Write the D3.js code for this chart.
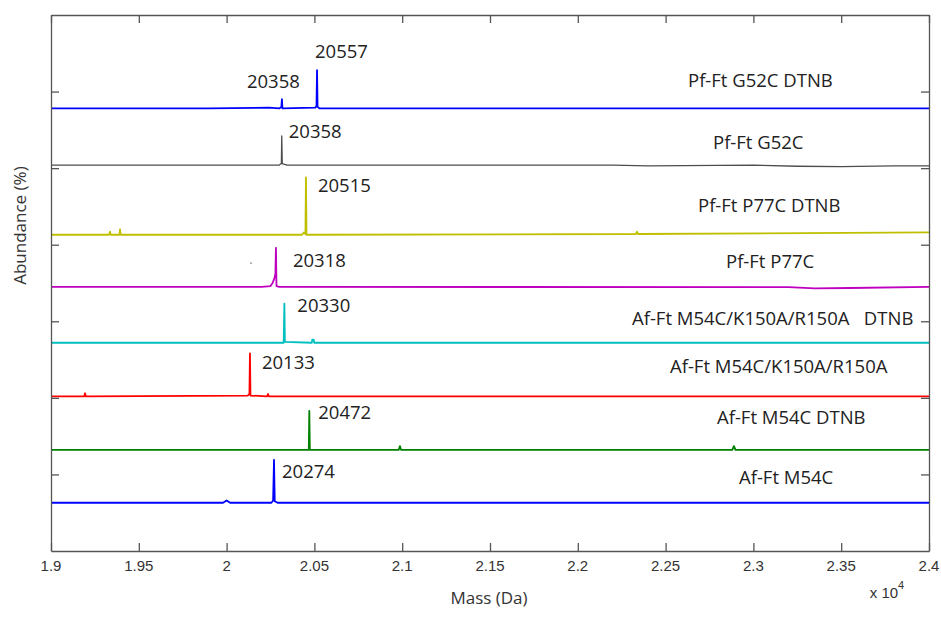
<!DOCTYPE html>
<html lang="en">
<head>
    <meta charset="UTF-8">
    <title>Mass spectra</title>
    <script src="https://d3js.org/d3.v7.min.js"></script>
    <style>
        body {
            margin: 0;
            background: #fff;
        }
        svg {
            display: block;
        }
        .axis path, .axis line {
            stroke: #555;
        }
        .tick-label {
            font-family: "Liberation Sans", Arial, sans-serif;
            font-size: 15px;
            fill: #333;
        }
        .note {
            font-family: "Open Sans", sans-serif;
            font-size: 18.5px;
            fill: #222;
            white-space: pre;
        }
        .title {
            font-family: "Open Sans", sans-serif;
            font-size: 17px;
            fill: #333;
        }
    </style>
</head>
<body>
<svg width="941" height="617"></svg>

<script>
    // x ticks (mass / 10^4)
    const massTicks = [1.9, 1.95, 2, 2.05, 2.1, 2.15, 2.2, 2.25, 2.3, 2.35, 2.4];
    const abundanceTicks = [1, 2, 3, 4, 5, 6];

    const sampleNames = [
        "Pf-Ft G52C DTNB",
        "Pf-Ft G52C",
        "Pf-Ft P77C DTNB",
        "Pf-Ft P77C",
        "Af-Ft M54C/K150A/R150A   DTNB",
        "Af-Ft M54C/K150A/R150A",
        "Af-Ft M54C DTNB",
        "Af-Ft M54C"
    ];
    const colors = ["#0000ff", "#4d4d4d", "#bfbf00", "#bf00bf", "#00bfbf", "#ff0000", "#008000", "#0000ff"];

    // spectra: [mass (Da), stacked abundance]
    const pfG52cDtnb = [[19000, 5.78], [19900, 5.78], [20240, 5.79], [20300, 5.78], [20312, 5.80], [20315, 5.90],
        [20318, 5.78], [20505, 5.79], [20512, 5.81], [20515, 6.28], [20518, 5.80], [20530, 5.78], [24000, 5.78]];
    const pfG52c = [[19000, 5.04], [20300, 5.04], [20312, 5.06], [20314, 5.42], [20317, 5.06], [20330, 5.05],
        [20345, 5.04], [22200, 5.04], [22400, 5.03], [23000, 5.04], [23250, 5.025], [23500, 5.02], [23800, 5.03], [24000, 5.03]];
    const pfP77cDtnb = [[19000, 4.13], [19330, 4.13], [19336, 4.17], [19340, 4.13], [19390, 4.13], [19393, 4.20],
        [19397, 4.13], [20430, 4.13], [20440, 4.16], [20449, 4.14], [20452, 4.88], [20455, 4.13], [22330, 4.14],
        [22337, 4.17], [22342, 4.14], [24000, 4.16]];
    const pfP77c = [[19000, 3.45], [20200, 3.45], [20250, 3.46], [20262, 3.50], [20272, 3.56], [20278, 3.62],
        [20281, 3.96], [20284, 3.46], [20300, 3.45], [23200, 3.445], [23350, 3.43], [23550, 3.435], [24000, 3.45]];
    const afM54cTripleDtnb = [[19000, 2.72], [20325, 2.72], [20329, 3.23], [20332, 2.73], [20485, 2.72],
        [20488, 2.76], [20496, 2.76], [20499, 2.72], [24000, 2.72]];
    const afM54cTriple = [[19000, 2.02], [19190, 2.02], [19194, 2.06], [19198, 2.02], [20120, 2.03], [20130, 2.05],
        [20133, 2.58], [20136, 2.03], [20230, 2.02], [20236, 2.05], [20240, 2.02], [24000, 2.02]];
    const afM54cDtnb = [[19000, 1.32], [20468, 1.32], [20471, 1.83], [20474, 1.32], [20980, 1.32], [20987, 1.37],
        [20994, 1.32], [22880, 1.32], [22889, 1.37], [22898, 1.32], [24000, 1.32]];
    const afM54c = [[19000, 0.63], [19980, 0.63], [20000, 0.66], [20020, 0.63], [20255, 0.63], [20265, 0.66],
        [20270, 1.19], [20274, 0.65], [20290, 0.63], [24000, 0.63]];
    const spectra = [pfG52cDtnb, pfG52c, pfP77cDtnb, pfP77c, afM54cTripleDtnb, afM54cTriple, afM54cDtnb, afM54c];

    // peak annotations: which spectrum, peak mass, text
    const peakSeries = [0, 0, 1, 2, 3, 4, 5, 6, 7];
    const peakMass = [20515, 20315, 20314, 20452, 20281, 20329, 20133, 20471, 20270];
    const peakText = ["20557", "20358", "20358", "20515", "20318", "20330", "20133", "20472", "20274"];

    const svg = d3.select("svg");
    const margin = {left: 51, top: 15, right: 12, bottom: 66};
    const width = 941 - margin.left - margin.right;
    const height = 617 - margin.top - margin.bottom;

    const x = d3.scaleLinear().domain([19000, 24000]).range([margin.left, margin.left + width]);
    const y = d3.scaleLinear().domain([0, 7]).range([margin.top + height, margin.top]);

    const g = svg.append("g");

    // spectra lines
    const line = d3.line().x(d => x(d[0])).y(d => y(d[1]));
    g.selectAll("path.spec")
        .data(spectra)
        .enter()
        .append("path")
        .attr("class", "spec")
        .attr("d", line)
        .attr("fill", "none")
        .attr("stroke", (d, i) => colors[i])
        .attr("stroke-width", (d, i) => i === 1 ? 1.3 : 1.8)
        .attr("stroke-linejoin", "round");

    // stray point on the P77C trace
    g.append("circle")
        .attr("cx", x(20139)).attr("cy", y(3.76)).attr("r", 0.9)
        .attr("fill", "#888");

    // frame + ticks
    const tickLen = 8;
    const xBottom = d3.axisBottom(x).tickValues(massTicks.map(v => v * 1e4)).tickSizeInner(-tickLen).tickSizeOuter(0).tickFormat("");
    const xTop = d3.axisTop(x).tickValues(massTicks.map(v => v * 1e4)).tickSizeInner(-tickLen).tickSizeOuter(0).tickFormat("");
    const yLeft = d3.axisLeft(y).tickValues(abundanceTicks).tickSizeInner(-tickLen).tickSizeOuter(0).tickFormat("");
    const yRight = d3.axisRight(y).tickValues(abundanceTicks).tickSizeInner(-tickLen).tickSizeOuter(0).tickFormat("");

    g.append("g").attr("class", "axis").attr("transform", `translate(0,${margin.top + height})`).call(xBottom);
    g.append("g").attr("class", "axis").attr("transform", `translate(0,${margin.top})`).call(xTop);
    g.append("g").attr("class", "axis").attr("transform", `translate(${margin.left},0)`).call(yLeft);
    g.append("g").attr("class", "axis").attr("transform", `translate(${margin.left + width},0)`).call(yRight);
    g.selectAll(".axis path, .axis line").attr("stroke-width", 1.3);

    // x tick labels
    g.selectAll("text.tick-label")
        .data(massTicks)
        .enter()
        .append("text")
        .attr("class", "tick-label")
        .attr("x", d => x(d * 1e4))
        .attr("y", margin.top + height + 20)
        .attr("text-anchor", "middle")
        .text(d => d);

    // exponent
    const expo = g.append("text").attr("class", "tick-label")
        .attr("x", 887).attr("y", 598).attr("text-anchor", "middle");
    expo.append("tspan").text("x 10");
    expo.append("tspan").attr("dy", -9).attr("font-size", 11).text("4");

    // axis titles
    g.append("text").attr("class", "title")
        .attr("x", x(21500) - 1).attr("y", 604)
        .attr("text-anchor", "middle")
        .text("Mass (Da)");
    g.append("text").attr("class", "title")
        .attr("transform", `translate(26,${y(4.25)}) rotate(-90)`)
        .attr("text-anchor", "middle")
        .text("Abundance (%)");

    // peak labels, offsets from the peak tip (px)
    const peakLabelDx = [-2, -35, 7, 12, 17, 13, 12, 9, 8];
    const peakLabelDy = [-12, -11, 2, 15, 19, 8, 16, 8, 18];
    g.selectAll("text.peak")
        .data(peakText)
        .enter()
        .append("text")
        .attr("class", "note")
        .attr("x", (d, i) => x(peakMass[i]) + peakLabelDx[i])
        .attr("y", (d, i) => {
            let pts = spectra[peakSeries[i]];
            let top = d3.max(pts.filter(p => Math.abs(p[0] - peakMass[i]) < 1), p => p[1]);
            return y(top) + peakLabelDy[i];
        })
        .text(d => d);

    // sample names
    const nameX = [688, 713, 698, 726, 632, 670, 717, 739];
    const nameY = [87, 149, 212, 268, 325, 373, 424, 484];
    g.selectAll("text.name")
        .data(sampleNames)
        .enter()
        .append("text")
        .attr("class", "note")
        .attr("x", (d, i) => nameX[i])
        .attr("y", (d, i) => nameY[i])
        .text(d => d);
</script>
</body>
</html>
